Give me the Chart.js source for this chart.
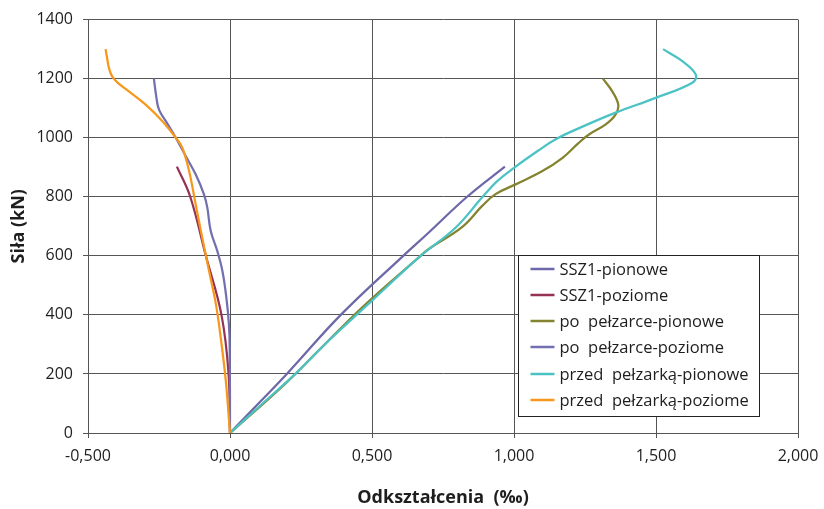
<!DOCTYPE html>
<html>
<head>
<meta charset="utf-8">
<script src="https://cdn.jsdelivr.net/npm/chart.js@4.4.1/dist/chart.umd.min.js"></script>
<style>
  html, body { margin: 0; padding: 0; background: #fff; }
  #wrap { width: 824px; height: 509px; }
</style>
</head>
<body>
<div id="wrap"><canvas id="chart" width="824" height="509"></canvas></div>
<script>
// strain (‰) / force (kN)
const seriesNames = [
  'SSZ1-pionowe',
  'SSZ1-poziome',
  'po  pełzarce-pionowe',
  'po  pełzarce-poziome',
  'przed  pełzarką-pionowe',
  'przed  pełzarką-poziome'
]
const seriesColors = ['#6d68a8', '#953255', '#84832f', '#7370b0', '#4bc2c4', '#f7981d']

const ssz1PionX = [0, 0.05, 0.2, 0.39, 0.61, 0.7, 0.835, 0.968]
const ssz1PionY = [0, 50, 200, 400, 600, 679, 800, 902]

const ssz1PozX = [0, -0.005, -0.03, -0.085, -0.14, -0.187]
const ssz1PozY = [0, 200, 400, 600, 800, 902]

const poPionX = [0, 0.196, 0.313, 0.466, 0.665, 0.7, 0.818, 0.888, 0.935, 1.006, 1.1, 1.171, 1.225, 1.264, 1.323, 1.358, 1.367, 1.346, 1.313]
const poPionY = [0, 168, 280, 426, 595, 623, 698, 769, 809, 842, 887, 932, 980, 1011, 1045, 1079, 1112, 1157, 1200]

const poPozX = [0, -0.001, -0.004, -0.013, -0.027, -0.045, -0.068, -0.08, -0.092, -0.121, -0.156, -0.191, -0.226, -0.25, -0.259, -0.268]
const poPozY = [0, 290, 370, 460, 550, 617, 685, 764, 809, 876, 938, 1000, 1056, 1095, 1135, 1200]

const przedPionX = [0, 0.102, 0.231, 0.349, 0.501, 0.665, 0.795, 0.888, 0.94, 1.0, 1.088, 1.147, 1.235, 1.358, 1.499, 1.628, 1.64, 1.593, 1.525]
const przedPionY = [0, 89, 201, 314, 449, 595, 696, 798, 852, 898, 958, 995, 1035, 1085, 1135, 1186, 1214, 1259, 1300]

const przedPozX = [0, -0.015, -0.033, -0.05, -0.074, -0.098, -0.121, -0.144, -0.168, -0.191, -0.238, -0.297, -0.356, -0.395, -0.415, -0.426, -0.433, -0.438]
const przedPozY = [0, 179, 325, 438, 550, 662, 775, 887, 966, 1000, 1056, 1112, 1157, 1186, 1208, 1235, 1271, 1300]

const xTicks = [-0.5, 0, 0.5, 1, 1.5, 2]
const yTicks = [0, 200, 400, 600, 800, 1000, 1200, 1400]

const allX = [ssz1PionX, ssz1PozX, poPionX, poPozX, przedPionX, przedPozX]
const allY = [ssz1PionY, ssz1PozY, poPionY, poPozY, przedPionY, przedPozY]

const gridColor = '#555'
const textColor = '#1e1e1e'
const font = '"Open Sans", "DejaVu Sans", sans-serif'

const datasets = seriesNames.map((name, i) => ({
  label: name,
  data: allX[i].map((x, j) => ({ x: x, y: allY[i][j] })),
  borderColor: seriesColors[i],
  backgroundColor: seriesColors[i],
  borderWidth: 2.25,
  showLine: true,
  pointRadius: 0,
  tension: 0.4,
  order: seriesNames.length - i
}))

// legend box drawn inside the plot, like the Excel original
const legendBox = {
  id: 'legendBox',
  afterDraw(chart) {
    const ctx = chart.ctx
    const x = 518.5, y = 255.5, w = 241, h = 161
    ctx.save()
    ctx.fillStyle = '#fff'
    ctx.fillRect(x, y, w, h)
    ctx.strokeStyle = '#222'
    ctx.lineWidth = 1
    ctx.strokeRect(x, y, w, h)
    ctx.font = '16.5px ' + font
    ctx.textBaseline = 'middle'
    ctx.fillStyle = textColor
    seriesNames.forEach((name, i) => {
      const ry = Math.round(y + 13 + i * 26.3)
      ctx.strokeStyle = seriesColors[i]
      ctx.lineWidth = 2.5
      ctx.beginPath()
      ctx.moveTo(x + 12, ry)
      ctx.lineTo(x + 36, ry)
      ctx.stroke()
      ctx.fillText(name, x + 41, ry + 1)
    })
    ctx.restore()
  }
}

new Chart(document.getElementById('chart'), {
  type: 'scatter',
  data: { datasets: datasets },
  plugins: [legendBox],
  options: {
    responsive: false,
    animation: false,
    layout: { padding: { top: 18, right: 26, bottom: 0, left: 0 } },
    plugins: {
      legend: { display: false },
      tooltip: { enabled: false }
    },
    scales: {
      x: {
        type: 'linear',
        min: -0.5,
        max: 2,
        afterFit: s => {
          s.height = 76
          s.paddingRight = 0
          s.paddingLeft = 0
        },
        afterBuildTicks: s => { s.ticks = xTicks.map(v => ({ value: v })) },
        ticks: {
          color: textColor,
          font: { family: font, size: 16 },
          padding: 9,
          callback: v => v.toFixed(3).replace('.', ',')
        },
        grid: { color: gridColor, lineWidth: 1, tickLength: 5 },
        border: { color: gridColor },
        title: {
          display: true,
          text: 'Odkształcenia  (‰)',
          color: textColor,
          font: { family: font, size: 18, weight: 'bold' },
          padding: { top: 0, bottom: 0 }
        }
      },
      y: {
        type: 'linear',
        min: 0,
        max: 1400,
        afterFit: s => { s.width = 88 },
        afterBuildTicks: s => { s.ticks = yTicks.map(v => ({ value: v })) },
        ticks: {
          color: textColor,
          font: { family: font, size: 16 },
          padding: 10,
          callback: v => String(v)
        },
        grid: { color: gridColor, lineWidth: 1, tickLength: 5 },
        border: { color: gridColor },
        title: {
          display: true,
          text: 'Siła (kN)',
          color: textColor,
          font: { family: font, size: 18, weight: 'bold' },
          padding: { top: 8, bottom: 0 }
        }
      }
    }
  }
})
</script>
</body>
</html>
